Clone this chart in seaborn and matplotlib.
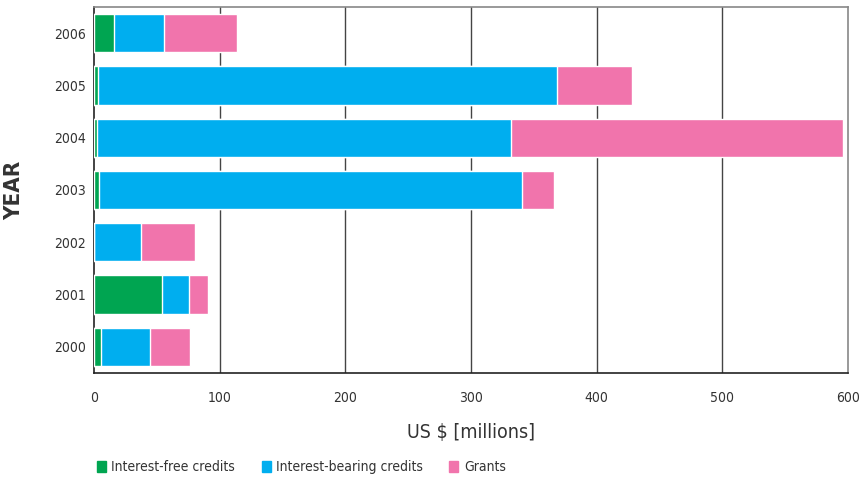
import seaborn as sns
import matplotlib.pyplot as plt
import matplotlib
import numpy as np
import pandas as pd
from matplotlib.patches import Patch

years = ['2006', '2005', '2004', '2003', '2002', '2001', '2000']
interest_free = [16, 3.5, 2, 4, 0, 54, 5.5]
interest_bearing = [40, 365, 330, 337, 37.5, 22, 39]
grants = [58, 60, 264, 25, 42.5, 15, 32]

sns.set_style('white')
plt.rcParams['font.family'] = ['DejaVu Sans']
plt.rcParams['font.stretch'] = 'condensed'

green = '#00A551'
blue = '#00AEEF'
pink = '#F174AC'

free_arr = np.array(interest_free)
cum_blue = free_arr + np.array(interest_bearing)
cum_total = cum_blue + np.array(grants)
df = pd.DataFrame({'year': years, 'free': free_arr, 'blue': cum_blue, 'total': cum_total})

fig = plt.figure(figsize=(8.6, 4.79), dpi=100)
ax = fig.add_axes([0.1093, 0.2213, 0.8767, 0.7641])

sns.barplot(data=df, x='total', y='year', order=years, color=pink, width=0.73,
            saturation=1, ax=ax, orient='h')
sns.barplot(data=df, x='blue', y='year', order=years, color=blue, width=0.73,
            saturation=1, ax=ax, orient='h')
sns.barplot(data=df, x='free', y='year', order=years, color=green, width=0.73,
            saturation=1, ax=ax, orient='h')
for p in ax.patches:
    p.set_zorder(3)

ax.set_xlim(0, 600)
ax.set_ylim(6.5, -0.5)
ax.set_xticks([0, 100, 200, 300, 400, 500, 600])
ax.set_xticks([0], minor=True)
for xv in [100, 200, 300, 400, 500]:
    ax.axvline(xv, color='#444444', lw=1.0, zorder=1)

ax.set_yticks(range(len(years)))
ax.set_yticklabels(years)
ax.set_yticks(np.arange(-0.5, 7, 1), minor=True)
ax.tick_params(axis='y', which='major', length=0, pad=6, labelsize=10, labelcolor='#333333')
ax.tick_params(axis='y', which='minor', length=7, width=1, color='#333333', direction='out')
ax.tick_params(axis='x', which='major', length=0, pad=13, labelsize=10, labelcolor='#333333')
ax.tick_params(axis='x', which='minor', length=7, width=1.2, color='#222222', direction='out')

for s in ['left', 'bottom']:
    ax.spines[s].set_color('#222222')
    ax.spines[s].set_linewidth(1.2)
for s in ['top', 'right']:
    ax.spines[s].set_color('#888888')
    ax.spines[s].set_linewidth(1.2)

ax.set_xlabel('US $ [millions]', fontsize=14, color='#333333', labelpad=13)
ax.set_ylabel('YEAR', fontsize=16, fontweight='bold', color='#333333')
ax.yaxis.set_label_coords(-0.093, 0.5)

handles = [Patch(color=green, label='Interest-free credits'),
           Patch(color=blue, label='Interest-bearing credits'),
           Patch(color=pink, label='Grants')]
fig.legend(handles=handles, loc='lower left', bbox_to_anchor=(0.098, -0.016), ncol=3,
           frameon=False, fontsize=10, handlelength=0.65, handleheight=0.8,
           handletextpad=0.4, columnspacing=1.9, labelcolor='#333333')

fig.savefig('out.png', dpi=100)
